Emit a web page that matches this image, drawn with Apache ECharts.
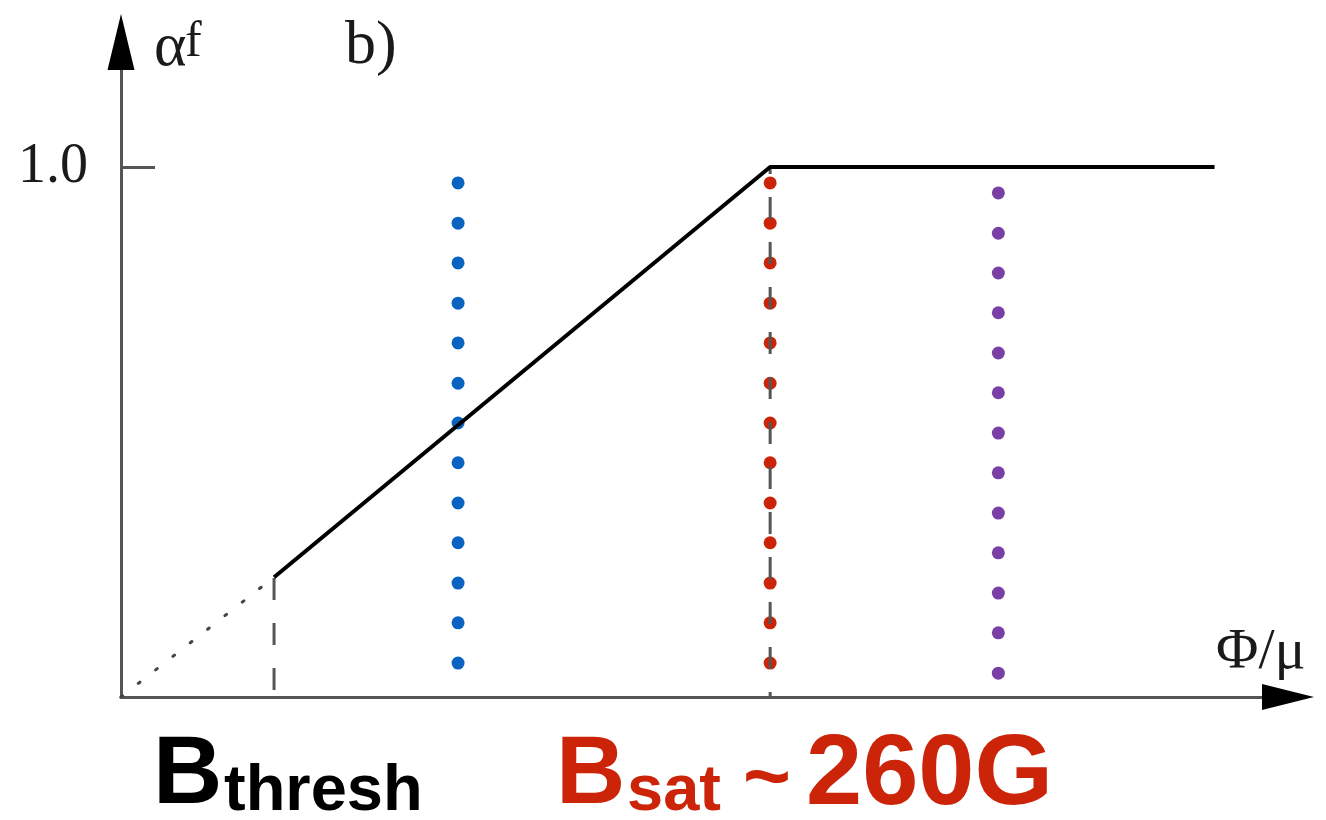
<!DOCTYPE html>
<html>
<head>
<meta charset="utf-8">
<script src="https://cdn.jsdelivr.net/npm/echarts@6/dist/echarts.min.js"></script>
<style>
html,body{margin:0;padding:0;background:#fff;}
#chart{width:1326px;height:820px;}
</style>
</head>
<body>
<div id="chart"></div>
<script>
// ---- data ----
var xMax = 457;
var yMax = 1.183;
var yTickValues = [1];
var yTickLabels = ['1.0'];
var responseLine = [[61.3, 0.226], [260, 1.0], [438, 1.0]];
var extrapolation = [[0, 0], [61.3, 0.226]];
var threshGuide = [[61.3, 0], [61.3, 0.226]];
var satGuide = [[260, 0], [260, 1.0]];
var blueX = 135;
var blueY = [0.970, 0.894, 0.819, 0.743, 0.668, 0.592, 0.517, 0.442, 0.366, 0.291, 0.215, 0.140, 0.064];
var redX = 260;
var redY = [0.970, 0.894, 0.819, 0.743, 0.668, 0.592, 0.517, 0.442, 0.366, 0.291, 0.215, 0.140, 0.064];
var purpleX = 351.4;
var purpleY = [0.951, 0.875, 0.800, 0.725, 0.649, 0.574, 0.498, 0.423, 0.347, 0.272, 0.196, 0.121, 0.045];

function column(x, ys) { return ys.map(function (y) { return [x, y]; }); }

var serif = '"Liberation Serif", "DejaVu Serif", serif';
var sans = '"Liberation Sans", Arial, sans-serif';
var axisColor = '#555555';

function arrowAxis(extra) {
  var base = {
    axisTick: {show: false}, axisLabel: {show: false}, splitLine: {show: false}
  };
  for (var k in extra) base[k] = extra[k];
  return base;
}

var chart = echarts.init(document.getElementById('chart'), null, {renderer: 'canvas'});
chart.setOption({
  animation: false,
  backgroundColor: '#ffffff',
  grid: {left: 121, right: 64, top: 70, bottom: 123, containLabel: false, outerBoundsMode: 'none'},
  xAxis: [
    arrowAxis({
      type: 'value', min: 0, max: xMax, position: 'bottom',
      axisLine: {show: true, onZero: false, lineStyle: {color: axisColor, width: 3}}
    }),
    arrowAxis({
      type: 'value', min: 0, max: xMax, position: 'bottom',
      axisLine: {show: true, onZero: false, lineStyle: {color: '#000', width: 0},
        symbol: ['none', 'triangle'], symbolSize: [26, 52], symbolOffset: [0, 26]}
    })
  ],
  yAxis: [
    {
      type: 'value', min: 0, max: yMax, position: 'left',
      axisLine: {show: true, onZero: false, lineStyle: {color: axisColor, width: 3}},
      axisTick: {show: true, inside: true, length: 34, customValues: yTickValues,
        lineStyle: {color: axisColor, width: 3}},
      axisLabel: {show: true, customValues: yTickValues, margin: 33,
        formatter: function (v) { var i = yTickValues.indexOf(v); return i >= 0 ? yTickLabels[i] : ''; },
        fontFamily: serif, fontSize: 56, color: '#1a1a1a'},
      splitLine: {show: false}
    },
    arrowAxis({
      type: 'value', min: 0, max: yMax, position: 'left',
      axisLine: {show: true, onZero: false, lineStyle: {color: '#000', width: 0},
        symbol: ['none', 'triangle'], symbolSize: [27, 56], symbolOffset: [0, 28]}
    })
  ],
  series: [
    {type: 'line', data: extrapolation, symbol: 'none', silent: true,
      lineStyle: {color: '#444', width: 3, type: [2, 20], cap: 'round'}},
    {type: 'line', data: threshGuide, symbol: 'none', silent: true,
      lineStyle: {color: '#555', width: 3, type: [22, 23], dashOffset: 38}},
    {type: 'line', data: satGuide, symbol: 'none', silent: true,
      lineStyle: {color: '#555', width: 3, type: [22, 23], dashOffset: 17}},
    {type: 'line', data: responseLine, symbol: 'none', silent: true,
      lineStyle: {color: '#000', width: 4}},
    {type: 'scatter', data: column(blueX, blueY), symbol: 'circle', symbolSize: 13, silent: true,
      itemStyle: {color: '#0b63c1', opacity: 1}},
    {type: 'scatter', data: column(redX, redY), symbol: 'circle', symbolSize: 13, silent: true,
      itemStyle: {color: '#cc2408', opacity: 1}},
    {type: 'scatter', data: column(purpleX, purpleY), symbol: 'circle', symbolSize: 13, silent: true,
      itemStyle: {color: '#7a3fa4', opacity: 1}}
  ],
  graphic: [
    {type: 'text', left: 154, top: 18, style: {text: 'α', font: '62px ' + serif, fill: '#1a1a1a'}},
    {type: 'text', left: 185, top: 18, style: {text: 'f', font: '50px ' + serif, fill: '#1a1a1a'}},
    {type: 'text', left: 345, top: 16, style: {text: 'b)', font: '62px ' + serif, fill: '#1a1a1a'}},
    {type: 'text', left: 1216, top: 624, style: {text: 'Φ/μ', font: '58px ' + serif, fill: '#1a1a1a'}},
    {type: 'text', left: 153, top: 729, style: {text: 'B', font: 'bold 96px ' + sans, fill: '#000'}},
    {type: 'text', left: 224, top: 760, style: {text: 'thresh', font: 'bold 65px ' + sans, fill: '#000'}},
    {type: 'text', left: 556, top: 729, style: {text: 'B', font: 'bold 96px ' + sans, fill: '#cc2408'}},
    {type: 'text', left: 627, top: 760, style: {text: 'sat', font: 'bold 65px ' + sans, fill: '#cc2408'}},
    {type: 'text', left: 743, top: 740, style: {text: '~', font: 'bold 82px ' + sans, fill: '#cc2408'}},
    {type: 'text', left: 806, top: 726, style: {text: '260G', font: 'bold 101px ' + sans, fill: '#cc2408'}}
  ]
});
</script>
</body>
</html>
